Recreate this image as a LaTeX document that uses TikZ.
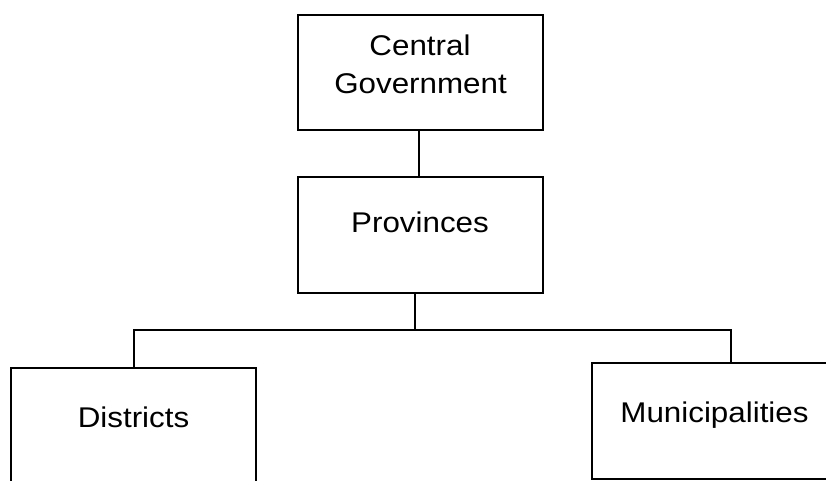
\documentclass[tikz,border=0pt]{standalone}
\usepackage{fontspec}
\setmainfont[FakeStretch=1.1]{Liberation Sans}
\begin{document}
\begin{tikzpicture}[x=1pt,y=-1pt,
  orgbox/.style={draw=black,line width=2pt,fill=white,rectangle,inner sep=0pt},
  label/.style={font=\fontsize{28.5}{38}\selectfont,anchor=base,inner sep=0pt},
  link/.style={draw=black,line width=2pt}]
  \useasboundingbox (0,0) rectangle (826,480);
  \clip (0,0) rectangle (826,480);

  % boxes
  \node[orgbox,minimum width=245.5pt,minimum height=115pt] (gov) at (420.25,72.5) {};
  \node[orgbox,minimum width=245.5pt,minimum height=116pt] (prov) at (420.25,235) {};
  \node[orgbox,minimum width=245pt,minimum height=160pt] (dist) at (133.5,448) {};
  \node[orgbox,minimum width=245pt,minimum height=116pt] (muni) at (714.5,421) {};

  % labels
  \node[label] (govA) at (420,55) {Central};
  \node[label] (govB) at (420.5,93) {Government};
  \node[label] (provL) at (420,232) {Provinces};
  \node[label] (distL) at (133.5,427) {Districts};
  \node[label] (muniL) at (714.5,422) {Municipalities};

  % connectors
  \coordinate (j) at (415,330);
  \coordinate (r) at (731,330);
  \draw[link] (gov.south -| 419,0) -- (prov.north -| 419,0);
  \draw[link] (prov.south -| j) -- (j);
  \draw[link] (dist.north) |- (j) -- (r) -- (r |- muni.north);
\end{tikzpicture}
\end{document}
